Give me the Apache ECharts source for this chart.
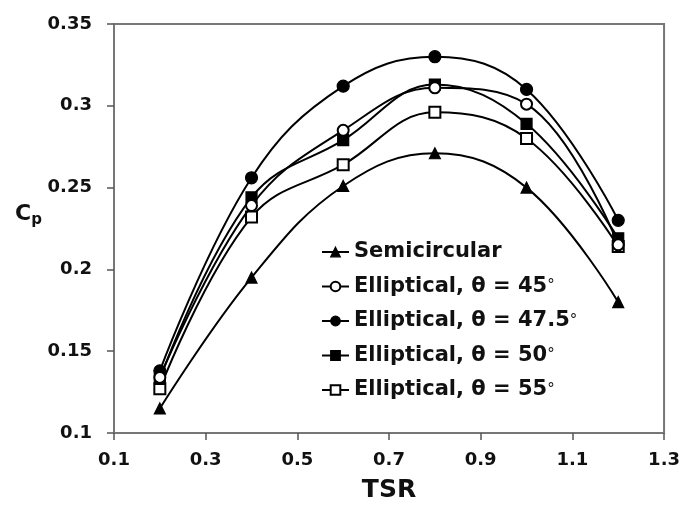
<!DOCTYPE html>
<html>
<head>
<meta charset="utf-8">
<script src="https://cdn.jsdelivr.net/npm/echarts@6/dist/echarts.min.js"></script>
<style>
html,body{margin:0;padding:0;background:#fff;}
#chart{width:683px;height:508px;}
</style>
</head>
<body>
<div id="chart"></div>
<script>
const tsr = [0.2, 0.4, 0.6, 0.8, 1.0, 1.2];
const semicircular = [0.115, 0.195, 0.251, 0.271, 0.250, 0.180];
const ell45 = [0.134, 0.239, 0.285, 0.311, 0.301, 0.215];
const ell475 = [0.138, 0.256, 0.312, 0.330, 0.310, 0.230];
const ell50 = [0.133, 0.244, 0.279, 0.313, 0.289, 0.219];
const ell55 = [0.127, 0.232, 0.264, 0.296, 0.280, 0.214];
const seriesNames = ['Semicircular', 'Elliptical, θ = 45', 'Elliptical, θ = 47.5', 'Elliptical, θ = 50', 'Elliptical, θ = 55'];
const xTicks = [0.1, 0.3, 0.5, 0.7, 0.9, 1.1, 1.3];
const yTicks = [0.1, 0.15, 0.2, 0.25, 0.3, 0.35];

const FONT = 'DejaVu Sans';
const values = [semicircular, ell45, ell475, ell50, ell55];
const symbols = ['triangle', 'emptyCircle', 'circle', 'rect', 'emptyRect'];
const sizes = [11, 11, 12, 11, 11];

function pairs(ys){ return tsr.map((x,i)=>[x, ys[i]]); }

const series = values.map((ys, i) => ({
  name: seriesNames[i],
  type: 'line',
  data: pairs(ys),
  smooth: 0.4,
  symbol: symbols[i],
  symbolSize: sizes[i],
  color: '#000',
  itemStyle: { color: '#000', borderColor: '#000', borderWidth: 1.2 },
  lineStyle: { color: '#000', width: 2 },
  emphasis: { disabled: true },
  z: 10 - i
}));

const chart = echarts.init(document.getElementById('chart'), null, { renderer: 'canvas' });
chart.setOption({
  backgroundColor: '#fff',
  animation: false,
  grid: { left: 114, right: 17, top: 24, bottom: 71, show: true, borderColor: '#777', borderWidth: 2, backgroundColor: 'transparent' },
  xAxis: {
    type: 'value', min: xTicks[0], max: xTicks[xTicks.length-1], interval: 0.2,
    name: 'TSR', nameLocation: 'middle', nameGap: 45,
    nameTextStyle: { fontFamily: FONT, fontWeight: 'bold', fontSize: 25, color: '#111' },
    axisLine: { lineStyle: { color: '#777', width: 2 } },
    axisTick: { show: true, inside: false, length: 7, lineStyle: { color: '#555', width: 1.5 } },
    axisLabel: { margin: 18, fontFamily: FONT, fontWeight: 'bold', fontSize: 18, color: '#111', formatter: v => v.toFixed(1) },
    splitLine: { show: false }
  },
  yAxis: {
    type: 'value', min: yTicks[0], max: yTicks[yTicks.length-1], interval: 0.05,
    axisLine: { show: true, lineStyle: { color: '#777', width: 2 } },
    axisTick: { show: true, inside: false, length: 7, lineStyle: { color: '#555', width: 1.5 } },
    axisLabel: { margin: 22, fontFamily: FONT, fontWeight: 'bold', fontSize: 18, color: '#111', formatter: v => String(+v.toFixed(2)) },
    splitLine: { show: false }
  },
  legend: {
    orient: 'vertical', left: 316, top: 235, itemGap: 10.5,
    itemWidth: 27, itemHeight: 12,
    data: seriesNames,
    formatter: name => name === 'Semicircular' ? '{t|' + name + '}' : '{t|' + name + '}{d|°}',
    textStyle: {
      rich: {
        t: { fontFamily: FONT, fontWeight: 'bold', fontSize: 21, color: '#111', lineHeight: 24, height: 24 },
        d: { fontFamily: FONT, fontSize: 15, color: '#111', lineHeight: 24, height: 24 }
      }
    },
    itemStyle: { borderWidth: 1.2 },
    selectedMode: false
  },
  graphic: [{
    type: 'text', left: 15, top: 203,
    style: {
      text: '{c|C}{p|p}',
      rich: {
        c: { fontFamily: FONT, fontWeight: 'bold', fontSize: 22, fill: '#111' },
        p: { fontFamily: FONT, fontWeight: 'bold', fontSize: 15, fill: '#111', padding: [12,0,0,0] }
      }
    }
  }],
  series: series
});
</script>
</body>
</html>
